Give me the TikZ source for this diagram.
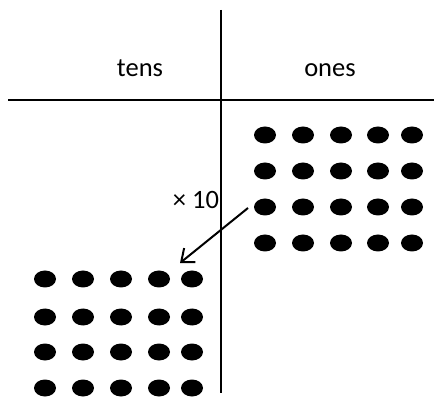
\documentclass[tikz,border=0pt]{standalone}
\usepackage{fontspec}
\setmainfont{Carlito}
\usetikzlibrary{arrows.meta,shapes.geometric}
\begin{document}
\begin{tikzpicture}[x=1pt,y=-1pt,
  rule/.style={line width=2.6pt},
  dot/.style={ellipse,fill=black,minimum width=22pt,minimum height=17pt,inner sep=0pt},
  lbl/.style={font=\fontsize{26.5}{30}\selectfont,anchor=base,inner sep=0pt}]
\useasboundingbox (0,0) rectangle (434,398);
\coordinate (vt) at (221,10);
\coordinate (vb) at (221,393);
\coordinate (hl) at (8,100);
\coordinate (hr) at (434,100);
\draw[rule] (vt) -- (vb);
\draw[rule] (hl) -- (hr);
\node[lbl] (tens) at (140,77) {tens};
\node[lbl] (ones) at (330,77) {ones};
\node[lbl] (times) at (196,209) {× 10};
\foreach \x [count=\i] in {265,303,341,378,412}
  \foreach \y [count=\j] in {135,171,207,243}
    \node[dot] (u\i\j) at (\x,\y) {};
\foreach \x [count=\i] in {45,83,121,159,192}
  \foreach \y [count=\j] in {279,317,352,388}
    \node[dot] (l\i\j) at (\x,\y) {};
\coordinate (as) at (248,208);
\coordinate (ae) at (180,263);
\draw[line width=2pt,-{Straight Barb[length=11pt,width=18pt,line width=2pt]}] (as) -- (ae);
\end{tikzpicture}
\end{document}
